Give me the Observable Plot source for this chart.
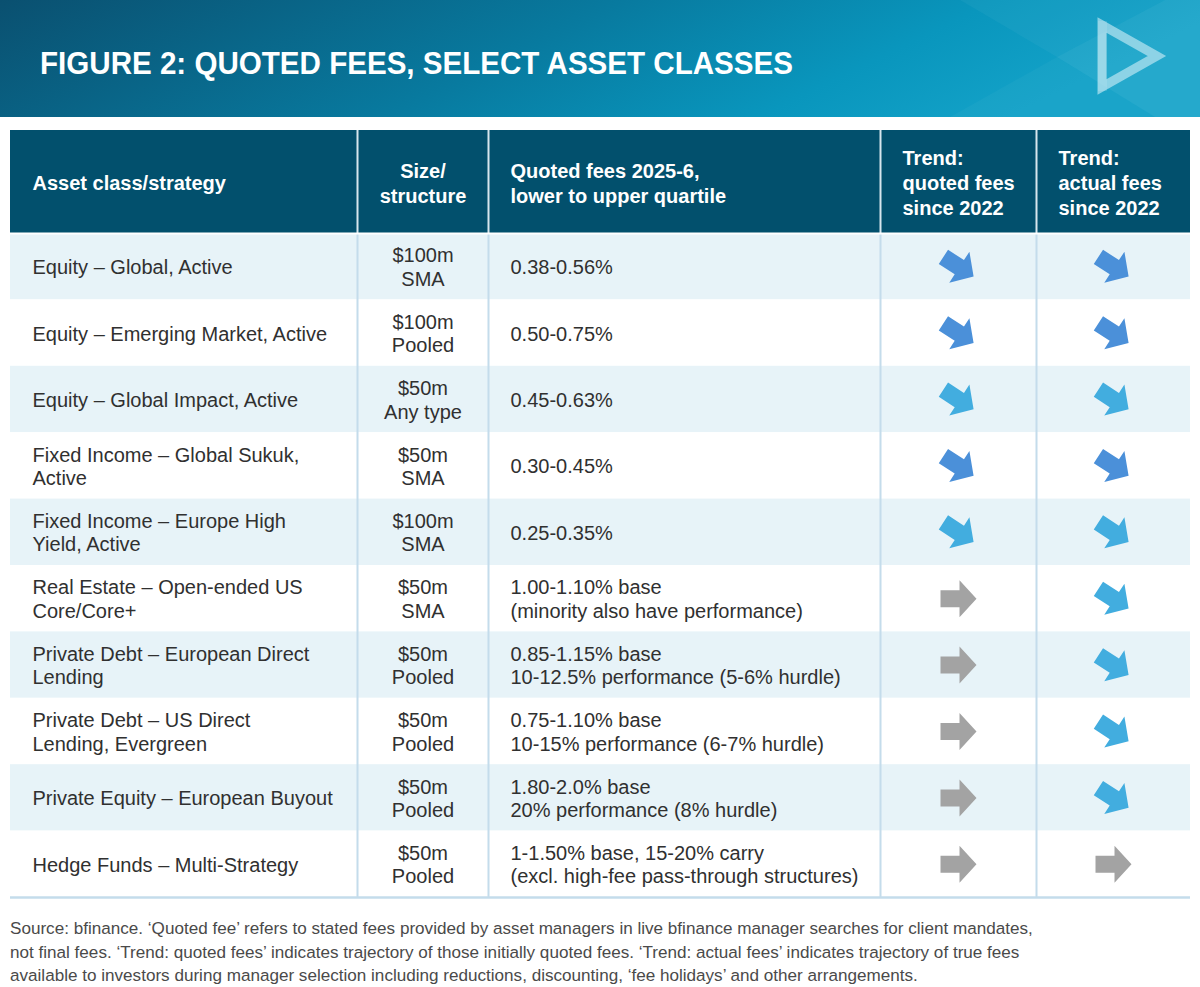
<!DOCTYPE html>
<html><head><meta charset="utf-8">
<script src="https://cdn.jsdelivr.net/npm/d3@7"></script>
<script src="https://cdn.jsdelivr.net/npm/@observablehq/plot@0.6"></script>
<style>
body{margin:0;background:#fff;font-family:"Liberation Sans",Arial,Helvetica,sans-serif;}
#banner{width:1200px;height:117px;display:block}
#chart svg{display:block}
#caption{margin:10px 0 0 10px;font-size:17.1px;line-height:23.5px;color:#4a4a4a;}
</style></head><body>
<svg id="banner" width="1200" height="117" viewBox="0 0 1200 117">
  <defs>
    <linearGradient id="bg" x1="0" y1="0" x2="1" y2="0.2">
      <stop offset="0" stop-color="#0a5070"/>
      <stop offset="0.5" stop-color="#087a9f"/>
      <stop offset="0.8" stop-color="#0996bd"/>
      <stop offset="1" stop-color="#13a2c8"/>
    </linearGradient>
  </defs>
  <rect width="1200" height="117" fill="url(#bg)"/>
  <polygon points="960,0 1165,0 1057,57" fill="#ffffff" fill-opacity="0.04"/>
  <polygon points="950,117 1155,117 1057,57" fill="#ffffff" fill-opacity="0.03"/>
  <polygon points="1057,57 1165,0 1200,0 1200,117 1155,117" fill="#ffffff" fill-opacity="0.08"/>
  <polygon points="1102,25 1157,56 1102,87" fill="none" stroke="#e4f5fb" stroke-opacity="0.55" stroke-width="9" stroke-linejoin="miter"/>
  <polygon points="1098,21 1107,21 1107,91 1098,91" fill="#ffffff" fill-opacity="0.12"/>
  <text id="title" x="40" y="74" fill="#ffffff" font-family="Liberation Sans, Arial, sans-serif" font-weight="bold" font-size="31" textLength="753" lengthAdjust="spacingAndGlyphs"></text>
</svg>
<div id="chart"></div>
<div id="caption"></div>
<script>
// ---- data ----
const title = "FIGURE 2: QUOTED FEES, SELECT ASSET CLASSES";
const headers = [
  "Asset class/strategy",
  "Size/\nstructure",
  "Quoted fees 2025-6,\nlower to upper quartile",
  "Trend:\nquoted fees\nsince 2022",
  "Trend:\nactual fees\nsince 2022"
];
const assetClasses = [
  "Equity – Global, Active",
  "Equity – Emerging Market, Active",
  "Equity – Global Impact, Active",
  "Fixed Income – Global Sukuk,\nActive",
  "Fixed Income – Europe High\nYield, Active",
  "Real Estate – Open-ended US\nCore/Core+",
  "Private Debt – European Direct\nLending",
  "Private Debt – US Direct\nLending, Evergreen",
  "Private Equity – European Buyout",
  "Hedge Funds – Multi-Strategy"
];
const sizeStructure = [
  "$100m\nSMA", "$100m\nPooled", "$50m\nAny type", "$50m\nSMA", "$100m\nSMA",
  "$50m\nSMA", "$50m\nPooled", "$50m\nPooled", "$50m\nPooled", "$50m\nPooled"
];
const quotedFees = [
  "0.38-0.56%",
  "0.50-0.75%",
  "0.45-0.63%",
  "0.30-0.45%",
  "0.25-0.35%",
  "1.00-1.10% base\n(minority also have performance)",
  "0.85-1.15% base\n10-12.5% performance (5-6% hurdle)",
  "0.75-1.10% base\n10-15% performance (6-7% hurdle)",
  "1.80-2.0% base\n20% performance (8% hurdle)",
  "1-1.50% base, 15-20% carry\n(excl. high-fee pass-through structures)"
];
const trendQuoted = ["falling","falling","easing","falling","easing","flat","flat","flat","flat","flat"];
const trendActual = ["falling","falling","easing","falling","easing","easing","easing","easing","easing","flat"];
const captionLines = [
  "Source: bfinance. ‘Quoted fee’ refers to stated fees provided by asset managers in live bfinance manager searches for client mandates,",
  "not final fees. ‘Trend: quoted fees’ indicates trajectory of those initially quoted fees. ‘Trend: actual fees’ indicates trajectory of true fees",
  "available to investors during manager selection including reductions, discounting, ‘fee holidays’ and other arrangements."
];

// ---- layout ----
const W = 1200, H = 790;
const colEdges = [10, 357, 488, 880, 1036, 1190];
const centered = new Set([1]);
const tableTop = 13, headerH = 103, rowH = 66.4;
const padL = 22;
const bodyTop = tableTop + headerH;
const bodyBottom = bodyTop + rowH * assetClasses.length;
const colMid = c => (colEdges[c] + colEdges[c + 1]) / 2;
const colX = c => centered.has(c) ? colMid(c) : colEdges[c] + padL;

document.getElementById("title").textContent = title;
document.getElementById("caption").innerHTML = captionLines.map(s => s.replace(/&/g,"&amp;").replace(/</g,"&lt;")).join("<br>");

const rows = assetClasses.map((a, i) => ({
  i, asset: a, size: sizeStructure[i], fees: quotedFees[i],
  tq: trendQuoted[i], ta: trendActual[i],
  y1: bodyTop + i * rowH, y2: bodyTop + (i + 1) * rowH
}));
const headerCells = headers.map((h, c) => ({c, text: h}));
const cells = rows.flatMap(r => [
  {c: 0, text: r.asset, y: (r.y1 + r.y2) / 2},
  {c: 1, text: r.size, y: (r.y1 + r.y2) / 2},
  {c: 2, text: r.fees, y: (r.y1 + r.y2) / 2}
]);
const arrows = rows.flatMap(r => [
  {c: 3, trend: r.tq, y: (r.y1 + r.y2) / 2},
  {c: 4, trend: r.ta, y: (r.y1 + r.y2) / 2}
]);

function arrowSymbol(angleDeg) {
  const a = angleDeg * Math.PI / 180, ca = Math.cos(a), sa = Math.sin(a);
  const pts = [[-18,-8.5],[1,-8.5],[1,-18.5],[18,0],[1,18.5],[1,8.5],[-18,8.5]];
  return {
    draw(ctx, size) {
      const k = Math.sqrt(size / Math.PI) / 18;
      pts.forEach(([x, y], j) => {
        const X = (x * ca - y * sa) * k, Y = (x * sa + y * ca) * k;
        if (j) ctx.lineTo(X, Y); else ctx.moveTo(X, Y);
      });
      ctx.closePath();
    }
  };
}
const diagArrow = arrowSymbol(33);
const rightArrow = arrowSymbol(0);

const headerText = (data, anchor) => Plot.text(data, {x: d => colX(d.c), y: () => (tableTop + bodyTop) / 2, text: "text",
  textAnchor: anchor, fill: "#ffffff", fontWeight: "bold", fontSize: 20, lineHeight: 1.25});
const bodyText = (data, anchor) => Plot.text(data, {x: d => colX(d.c), y: "y", text: "text",
  textAnchor: anchor, fill: "#303030", fontSize: 20, lineHeight: 1.17});

const chart = Plot.plot({
  width: W, height: H, margin: 0,
  x: {domain: [0, W], range: [0, W], axis: null},
  y: {domain: [0, H], range: [0, H], axis: null},
  color: {domain: ["falling", "easing", "flat"], range: ["#4b90d9", "#42addf", "#a3a3a3"]},
  style: {fontFamily: "Liberation Sans, Arial, Helvetica, sans-serif", background: "#ffffff"},
  marks: [
    // header band
    Plot.rect([headerCells[0]], {x1: () => colEdges[0], x2: () => colEdges[5], y1: () => tableTop, y2: () => bodyTop, fill: "#02506d"}),
    // row stripes
    Plot.rect(rows, {x1: () => colEdges[0], x2: () => colEdges[5], y1: "y1", y2: "y2", fill: d => d.i % 2 === 0 ? "#e7f3f8" : "#ffffff"}),
    // column separators
    Plot.ruleX(colEdges.slice(1, 5), {y1: () => tableTop, y2: () => bodyTop, stroke: "#d7e6ee", strokeWidth: 2}),
    Plot.ruleX(colEdges.slice(1, 5), {y1: () => bodyTop, y2: () => bodyBottom, stroke: "#c4dceb", strokeWidth: 2}),
    Plot.ruleY([bodyTop], {x1: () => colEdges[0], x2: () => colEdges[5], stroke: "#ffffff", strokeWidth: 2}),
    Plot.ruleY([bodyBottom], {x1: () => colEdges[0], x2: () => colEdges[5], stroke: "#c4dceb", strokeWidth: 2.5}),
    // header text
    headerText(headerCells.filter(d => !centered.has(d.c)), "start"),
    headerText(headerCells.filter(d => centered.has(d.c)), "middle"),
    // body text
    bodyText(cells.filter(d => !centered.has(d.c)), "start"),
    bodyText(cells.filter(d => centered.has(d.c)), "middle"),
    // trend arrows
    Plot.dot(arrows.filter(d => d.trend !== "flat"), {x: d => colMid(d.c), y: "y", symbol: diagArrow, r: 18, fill: "trend", stroke: "none"}),
    Plot.dot(arrows.filter(d => d.trend === "flat"), {x: d => colMid(d.c), y: "y", symbol: rightArrow, r: 18, fill: "trend", stroke: "none"})
  ]
});
document.getElementById("chart").append(chart);
</script>
</body></html>
